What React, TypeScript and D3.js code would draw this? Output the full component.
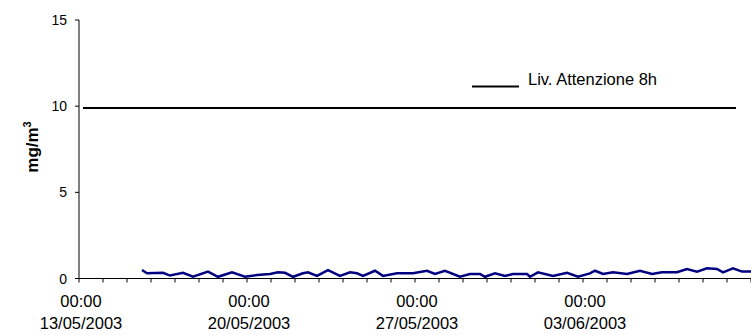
import React from "react";
import * as d3 from "d3";

const times = [
  "2003-05-15 15:00", "2003-05-15 20:00", "2003-05-16 12:00", "2003-05-16 19:00",
  "2003-05-17 08:00", "2003-05-17 18:00", "2003-05-18 09:00", "2003-05-18 19:00",
  "2003-05-19 09:00", "2003-05-19 22:00", "2003-05-20 10:00", "2003-05-20 23:00",
  "2003-05-21 07:00", "2003-05-21 14:00", "2003-05-21 22:00", "2003-05-22 08:00",
  "2003-05-22 13:00", "2003-05-22 22:00", "2003-05-23 09:00", "2003-05-23 21:00",
  "2003-05-24 07:00", "2003-05-24 14:00", "2003-05-24 20:00", "2003-05-25 08:00",
  "2003-05-25 16:00", "2003-05-26 06:00", "2003-05-26 22:00", "2003-05-27 12:00",
  "2003-05-27 20:00", "2003-05-28 06:00", "2003-05-28 21:00", "2003-05-29 07:00",
  "2003-05-29 17:00", "2003-05-29 22:00", "2003-05-30 08:00", "2003-05-30 18:00",
  "2003-05-31 02:00", "2003-05-31 16:00", "2003-05-31 19:00", "2003-06-01 03:00",
  "2003-06-01 18:00", "2003-06-02 08:00", "2003-06-02 19:00", "2003-06-03 07:00",
  "2003-06-03 12:00", "2003-06-03 20:00", "2003-06-04 06:00", "2003-06-04 20:00",
  "2003-06-05 09:00", "2003-06-05 21:00", "2003-06-06 07:00", "2003-06-06 22:00",
  "2003-06-07 08:00", "2003-06-07 18:00", "2003-06-08 04:00", "2003-06-08 14:00",
  "2003-06-08 20:00", "2003-06-09 06:00", "2003-06-09 15:00", "2003-06-10 00:00",
];

const values = [
  0.49, 0.30, 0.33, 0.17,
  0.33, 0.10, 0.40, 0.10,
  0.36, 0.10, 0.20, 0.26,
  0.36, 0.33, 0.10, 0.30,
  0.36, 0.15, 0.49, 0.15,
  0.36, 0.30, 0.15, 0.45,
  0.15, 0.30, 0.30, 0.45,
  0.26, 0.45, 0.10, 0.26,
  0.26, 0.10, 0.30, 0.15,
  0.26, 0.26, 0.10, 0.36,
  0.15, 0.33, 0.10, 0.30,
  0.45, 0.26, 0.36, 0.26,
  0.45, 0.26, 0.36, 0.36,
  0.55, 0.40, 0.59, 0.55,
  0.36, 0.59, 0.40, 0.40,
];

const limitTimes = ["2003-05-13 04:00", "2003-06-09 09:00"];
const limitValue = 9.9;
const legendLabel = "Liv. Attenzione 8h";
const yTicks = [0, 5, 10, 15];
const xDomain = ["2003-05-13 00:00", "2003-06-10 00:00"];
const xLabelDates = ["2003-05-13 00:00", "2003-05-20 00:00", "2003-05-27 00:00", "2003-06-03 00:00"];

const parse = d3.utcParse("%Y-%m-%d %H:%M");
const fmtTime = d3.utcFormat("%H:%M");
const fmtDate = d3.utcFormat("%d/%m/%Y");

export default function App() {
  const W = 751, H = 335;
  const x = d3.scaleUtc().domain(xDomain.map((s) => parse(s)!)).range([79, 751]);
  const y = d3.scaleLinear().domain([0, 15]).range([278.5, 20]);
  const data = times.map((t, i) => ({ t: parse(t)!, v: values[i] }));
  const line = d3.line<{ t: Date; v: number }>().x((d) => x(d.t)).y((d) => y(d.v));
  const dayTicks = d3.utcDay.range(x.domain()[0], d3.utcDay.offset(x.domain()[1], 1));
  const font = "Arial, 'Liberation Sans', sans-serif";
  return (
    <svg width={W} height={H} style={{ position: "absolute", left: 0, top: 0, background: "#fff" }} fontFamily={font}>
      {/* y axis */}
      <line x1={79} x2={79} y1={y(15)} y2={y(0)} stroke="#000" strokeWidth={1} />
      {yTicks.map((t) => (
        <g key={t}>
          <line x1={75} x2={79} y1={y(t)} y2={y(t)} stroke="#000" />
          <text x={67} y={y(t)} dy="0.36em" textAnchor="end" fontSize={14} fill="#000">{t}</text>
        </g>
      ))}
      {/* x axis */}
      <line x1={79} x2={751} y1={y(0)} y2={y(0)} stroke="#000" />
      {dayTicks.map((d, i) => (
        <line key={i} x1={x(d)} x2={x(d)} y1={y(0)} y2={y(0) + 4} stroke="#000" />
      ))}
      {xLabelDates.map((s) => {
        const d = parse(s)!;
        return (
          <g key={s}>
            <text x={x(d) + 2} y={306.5} textAnchor="middle" fontSize={16.5} fill="#000">{fmtTime(d)}</text>
            <text x={x(d) + 2} y={329} textAnchor="middle" fontSize={16.5} fill="#000">{fmtDate(d)}</text>
          </g>
        );
      })}
      {/* y label */}
      <text transform={`translate(37.5,147) rotate(-90)`} textAnchor="middle" fontSize={17} fontWeight="bold" fill="#000">
        mg/m<tspan dy={-7} fontSize={11}>3</tspan>
      </text>
      {/* limit line */}
      <line
        x1={x(parse(limitTimes[0])!)} x2={x(parse(limitTimes[1])!)}
        y1={y(limitValue)} y2={y(limitValue)} stroke="#000" strokeWidth={2}
      />
      {/* legend */}
      <line x1={472} x2={519} y1={86.5} y2={86.5} stroke="#000" strokeWidth={2} />
      <text x={528} y={85} fontSize={16.5} fill="#000">{legendLabel}</text>
      {/* data */}
      <path d={line(data) || ""} fill="none" stroke="#000080" strokeWidth={2.5} />
    </svg>
  );
}
